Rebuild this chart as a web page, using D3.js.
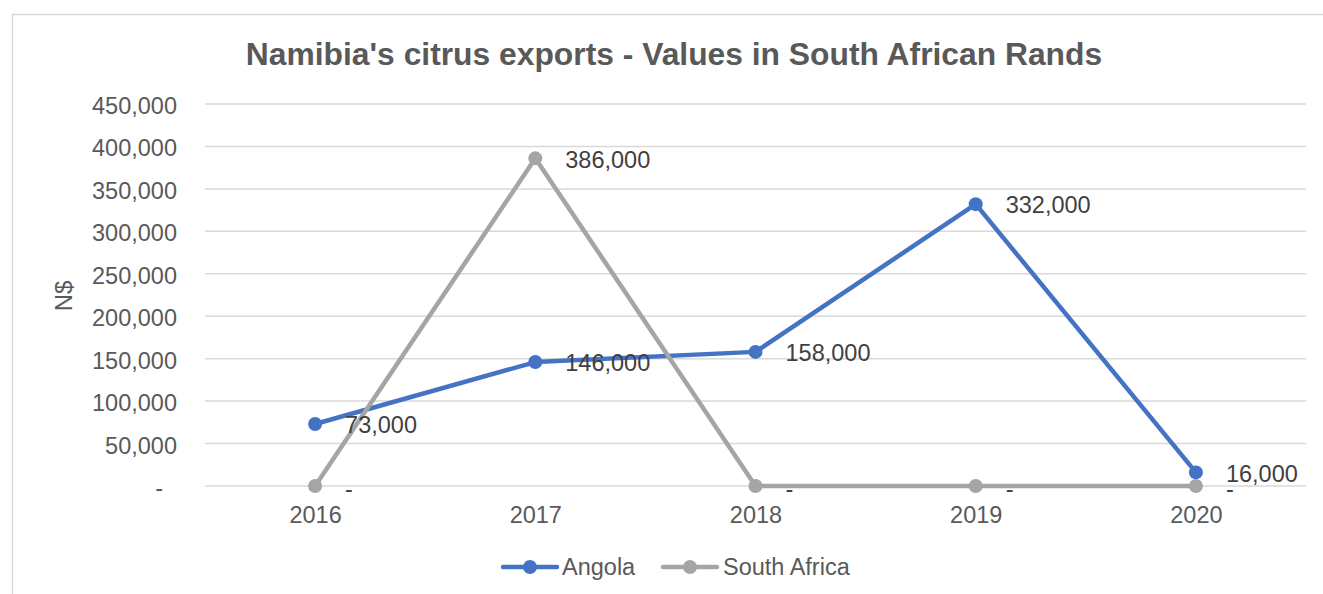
<!DOCTYPE html>
<html>
<head>
<meta charset="utf-8">
<script src="https://cdn.jsdelivr.net/npm/d3@7"></script>
<style>
  html, body { margin: 0; padding: 0; background: #fff; }
  svg { display: block; font-family: "Liberation Sans", Arial, sans-serif; }
</style>
</head>
<body>
<svg id="chart" width="1323" height="594"></svg>
<script>
const title = "Namibia's citrus exports - Values in South African Rands";
const yTitle = "N$";
const years = ["2016", "2017", "2018", "2019", "2020"];
const angola = [73000, 146000, 158000, 332000, 16000];
const southAfrica = [0, 386000, 0, 0, 0];
const seriesNames = ["Angola", "South Africa"];
const seriesColors = ["#4472C4", "#A5A5A5"];
const yTicks = [0, 50000, 100000, 150000, 200000, 250000, 300000, 350000, 400000, 450000];
const yTickLabels = ["-", "50,000", "100,000", "150,000", "200,000", "250,000", "300,000", "350,000", "400,000", "450,000"];

const series = [
  { name: seriesNames[0], color: seriesColors[0], values: angola },
  { name: seriesNames[1], color: seriesColors[1], values: southAfrica }
];

const svg = d3.select("#chart");
const W = 1323, H = 594;
const plot = { left: 205, right: 1306, top: 104, bottom: 486 };

// chart border
svg.append("rect").attr("x", 12.5).attr("y", 14.5).attr("width", W + 10).attr("height", H + 10)
  .attr("fill", "#fff").attr("stroke", "#D9D9D9").attr("stroke-width", 1.5);

const x = d3.scalePoint().domain(years).range([plot.left, plot.right]).padding(0.5);
const y = d3.scaleLinear().domain([0, 450000]).range([plot.bottom, plot.top]);

// gridlines
svg.append("g").selectAll("line").data(yTicks).join("line")
  .attr("x1", plot.left).attr("x2", plot.right)
  .attr("y1", d => y(d)).attr("y2", d => y(d))
  .attr("stroke", "#D9D9D9").attr("stroke-width", 1.5);

// y axis labels
const yAxis = d3.axisLeft(y).tickValues(yTicks).tickSize(0).tickPadding(0)
  .tickFormat((d, i) => yTickLabels[i]);
const gy = svg.append("g").attr("transform", `translate(177,2)`).call(yAxis);
gy.select(".domain").remove();
gy.selectAll("text").attr("font-size", 23.5).attr("fill", "#595959")
  .attr("font-family", "Liberation Sans, Arial, sans-serif")
  .attr("dx", d => d === 0 ? -14 : 0);

// x axis labels
const xAxis = d3.axisBottom(x).tickSize(0).tickPadding(0);
const gx = svg.append("g").attr("transform", `translate(0,${plot.bottom})`).call(xAxis);
gx.select(".domain").remove();
gx.selectAll("text").attr("font-size", 23.5).attr("fill", "#595959")
  .attr("font-family", "Liberation Sans, Arial, sans-serif")
  .attr("dy", 0).attr("y", 37);

// title
svg.append("text").attr("x", 674).attr("y", 65).attr("text-anchor", "middle")
  .attr("font-size", 31.8).attr("font-weight", "bold").attr("fill", "#595959").text(title);

// y title
svg.append("text").attr("transform", `translate(72,296) rotate(-90)`)
  .attr("text-anchor", "middle").attr("font-size", 24).attr("fill", "#595959").text(yTitle);

// lines
const line = d3.line().x((d, i) => x(years[i])).y(d => y(d));
series.forEach(s => {
  svg.append("path").datum(s.values).attr("d", line)
    .attr("fill", "none").attr("stroke", s.color).attr("stroke-width", 4.5)
    .attr("stroke-linejoin", "round").attr("stroke-linecap", "round");
  svg.append("g").selectAll("circle").data(s.values).join("circle")
    .attr("cx", (d, i) => x(years[i])).attr("cy", d => y(d)).attr("r", 7)
    .attr("fill", s.color);
});

// data labels
series.forEach(s => {
  svg.append("g").selectAll("text").data(s.values).join("text")
    .attr("x", (d, i) => x(years[i]) + 30).attr("y", d => y(d) + (d === 0 ? 3 : 1))
    .attr("dy", "0.35em")
    .attr("font-size", 23.5).attr("fill", "#404040")
    .text(d => d === 0 ? "-" : d3.format(",")(d));
});

// legend
const legend = [{ s: series[0], x0: 503, tx: 562 }, { s: series[1], x0: 663, tx: 723 }];
const lg = svg.append("g");
legend.forEach(l => {
  lg.append("line").attr("x1", l.x0).attr("x2", l.x0 + 54).attr("y1", 567).attr("y2", 567)
    .attr("stroke", l.s.color).attr("stroke-width", 4.5).attr("stroke-linecap", "round");
  lg.append("circle").attr("cx", l.x0 + 27).attr("cy", 567).attr("r", 7).attr("fill", l.s.color);
  lg.append("text").attr("x", l.tx).attr("y", 567).attr("dy", "0.35em")
    .attr("font-size", 23.5).attr("fill", "#595959").text(l.s.name);
});
</script>
</body>
</html>
